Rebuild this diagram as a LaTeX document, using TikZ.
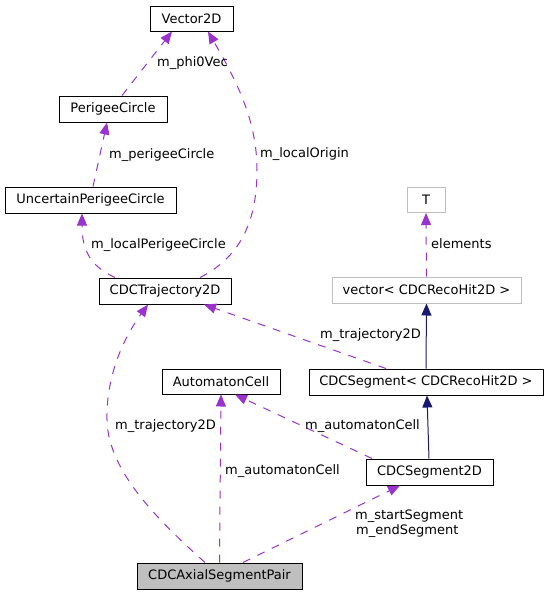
\documentclass[tikz,border=0pt]{standalone}
\usepackage{fontspec}
\setmainfont{DejaVu Sans}
\usetikzlibrary{arrows.meta}
\definecolor{usecol}{HTML}{9A32CD}
\definecolor{inhcol}{HTML}{191970}
\definecolor{greyedge}{HTML}{BFBFBF}
\begin{document}
\begin{tikzpicture}[x=1pt,y=-1pt,
  font=\fontsize{13}{15}\selectfont,
  cls/.style={draw=black,fill=white,line width=1pt,rectangle,inner sep=0pt,minimum height=26pt,text=black},
  ext/.style={cls,draw=greyedge},
  cur/.style={cls,fill=greyedge},
  use/.style={draw=usecol,line width=1pt,dash pattern=on 8pt off 8pt,-{Triangle[length=12pt,width=10pt,fill=usecol]}},
  inh/.style={draw=inhcol,line width=1pt,-{Triangle[length=12pt,width=10pt,fill=inhcol]}},
  lbl/.style={anchor=base west,inner sep=0pt,text=black}]
\useasboundingbox (0,0) rectangle (549,595);
% classes
\node[cls,minimum width=83pt,minimum height=25pt] (vec) at (191.5,18.5) {Vector2D};
\node[cls,minimum width=108pt] (peri) at (113,109) {PerigeeCircle};
\node[cls,minimum width=171pt] (unc) at (90.5,200) {UncertainPerigeeCircle};
\node[cls,minimum width=132pt] (traj) at (165,291) {CDCTrajectory2D};
\node[ext,minimum width=38pt,minimum height=25pt] (T) at (426,200) {T};
\node[ext,minimum width=189pt] (vect) at (426.5,290) {vector< CDCRecoHit2D >};
\node[cls,minimum width=234pt] (seg) at (426,382) {CDCSegment< CDCRecoHit2D >};
\node[cls,minimum width=118pt,minimum height=25pt] (auto) at (221,381.5) {AutomatonCell};
\node[cls,minimum width=127pt] (seg2d) at (429.5,472) {CDCSegment2D};
\node[cur,minimum width=165pt] (pair) at (219.5,576) {CDCAxialSegmentPair};
% edges
\draw[use] ([xshift=9pt]peri.north) -- ([xshift=-19.5pt]vec.south);
\draw[use] ([xshift=2.5pt]unc.north) -- ([xshift=-6pt]peri.south);
\draw[use] ([xshift=-50pt]traj.north) .. controls (90,266) and (82,250) .. ([xshift=-8.5pt]unc.south);
\draw[use] ([xshift=35pt]traj.north) .. controls (238,258) and (257,225) .. (257,170)
  .. controls (257,120) and (236,80) .. ([xshift=16.5pt]vec.south);
\draw[use] (vect.north) -- (T.south);
\draw[inh] (seg.north) -- (vect.south);
\draw[inh] ([xshift=-0.5pt]seg2d.north) -- ([xshift=1pt]seg.south);
\draw[use] ([xshift=-40pt]seg.north) -- ([xshift=39pt]traj.south);
\draw[use] ([xshift=-57.5pt]seg2d.north) -- ([xshift=14pt]auto.south);
\draw[use] ([xshift=-14.5pt]pair.north) .. controls (160,522) and (108,472) .. (107,420)
  .. controls (106,370) and (128,332) .. ([xshift=-17pt]traj.south);
\draw[use] (pair.north) -- (auto.south);
\draw[use] ([xshift=23.5pt]pair.north) -- ([xshift=-29.5pt]seg2d.south);
% labels
\node[lbl] (l1) at (157,66.5) {m\_phi0Vec};
\node[lbl] (l2) at (109,158.5) {m\_perigeeCircle};
\node[lbl] (l3) at (260,157.5) {m\_localOrigin};
\node[lbl] (l4) at (91,248.5) {m\_localPerigeeCircle};
\node[lbl] (l5) at (431,248.5) {elements};
\node[lbl] (l6) at (320,338.5) {m\_trajectory2D};
\node[lbl] (l7) at (115,429.5) {m\_trajectory2D};
\node[lbl] (l8) at (305,429.5) {m\_automatonCell};
\node[lbl] (l9) at (225,474.5) {m\_automatonCell};
\node[lbl] (l10) at (355,519.5) {m\_startSegment};
\node[lbl] (l11) at (356,534.5) {m\_endSegment};
\end{tikzpicture}
\end{document}
